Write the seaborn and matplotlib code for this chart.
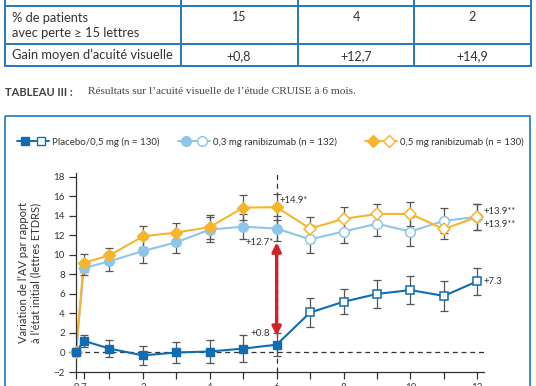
import matplotlib
matplotlib.use('Agg')
import matplotlib.pyplot as plt
import seaborn as sns
import pandas as pd
from matplotlib.lines import Line2D
from matplotlib.patches import Rectangle
from matplotlib.legend_handler import HandlerTuple

# --- données ---
months = [0, 0.23, 1, 2, 3, 4, 5, 6, 7, 8, 9, 10, 11, 12]
month_labels = ['0', '7', '', '2', '', '4', '', '6', '', '8', '', '10', '', '12']
placebo = [0, 1.2, 0.4, -0.3, 0.0, 0.1, 0.4, 0.8, 4.1, 5.2, 6.0, 6.4, 5.8, 7.3]
placebo_err = [0, 0.6, 0.85, 0.95, 1.05, 1.2, 1.4, 1.2, 1.5, 1.3, 1.4, 1.4, 1.5, 1.4]
rbz03 = [0, 8.65, 9.35, 10.4, 11.3, 12.6, 12.9, 12.7, 11.6, 12.4, 13.2, 12.4, 13.5, 13.9]
rbz03_err = [0, 0.7, 0.95, 1.2, 1.1, 1.3, 1.3, 1.3, 1.45, 1.2, 1.3, 1.45, 1.3, 1.3]
rbz05 = [0, 9.2, 9.95, 11.9, 12.3, 12.85, 14.85, 14.9, 12.7, 13.7, 14.2, 14.2, 12.65, 13.9]
rbz05_err = [0, 0.9, 0.75, 1.1, 1.0, 1.2, 1.25, 1.3, 1.2, 1.25, 1.0, 1.2, 1.05, 1.3]

groups = ['0,3 mg ranibizumab (n = 132)', '0,5 mg ranibizumab (n = 130)', 'Placebo/0,5 mg (n = 130)']
colors = ['#8dc6e8', '#f7b52c', '#0e6db3']
markers = ['o', 'D', 's']
msizes = [7, 6.5, 6.2]

table_rows = ['% de patients\navec perte ≥ 15 lettres', 'Gain moyen d\u2019acuité visuelle']
table_pct = ['15', '4', '2']
table_gain = ['+0,8', '+12,7', '+14,9']

df = pd.concat([
    pd.DataFrame({'month': months, 'value': v, 'err': e, 'group': g})
    for v, e, g in zip([rbz03, rbz05, placebo], [rbz03_err, rbz05_err, placebo_err], groups)
])

sns.set_theme(style='ticks')
plt.rcParams['font.family'] = ['Lato', 'DejaVu Sans']

fig = plt.figure(figsize=(5.36, 3.86), dpi=100)

# page (tableau, légende du tableau, cadre)
page = fig.add_axes([0, 0, 1, 1])
page.set_xlim(0, 536)
page.set_ylim(386, 0)
page.axis('off')
blue = '#2878be'
for y in [5.5, 43.5, 66]:
    page.plot([5, 531], [y, y], color=blue, lw=1.4)
for x in [5, 181, 297.5, 414, 531]:
    page.plot([x, x], [-2, 66], color=blue, lw=1.4)
page.text(12, 25.5, table_rows[0], fontsize=9.3, va='center', ha='left', color='#333', linespacing=1.3)
page.text(12, 55, table_rows[1], fontsize=9.3, va='center', ha='left', color='#333')
for xc, p, g in zip([239, 356, 472], table_pct, table_gain):
    page.text(xc, 17, p, fontsize=9, va='center', ha='center', color='#333')
    page.text(xc, 56, g, fontsize=9, va='center', ha='center', color='#333')
page.text(5, 92, 'TABLEAU III :', fontsize=8, fontweight='bold', va='center', ha='left', color='#444')
page.text(88, 92, 'Résultats sur l\u2019acuité visuelle de l\u2019étude CRUISE à 6 mois.',
          fontsize=8.1, va='center', ha='left', color='#444', family='Liberation Serif')
page.add_patch(Rectangle((5, 116), 525, 300, fill=False, edgecolor='#1b78c0', lw=1.2))

# graphique
ax = fig.add_axes([76 / 536, 14 / 386, 408 / 536, 199 / 386])
ax.patch.set_alpha(0)
sns.lineplot(data=df, x='month', y='value', hue='group', hue_order=groups, palette=colors,
             sort=False, legend=False, lw=1.5, ax=ax, zorder=2)
for g, c, m, ms in zip(groups, colors, markers, msizes):
    d = df[df['group'] == g]
    ax.errorbar(d['month'], d['value'], yerr=d['err'], fmt='none', ecolor='#555',
                elinewidth=0.9, capsize=2.8, capthick=0.9, zorder=3)
    f = d[d['month'] <= 6]
    o = d[d['month'] > 6]
    ax.plot(f['month'], f['value'], ls='none', marker=m, ms=ms, mfc=c, mec=c, zorder=4, clip_on=False)
    ax.plot(o['month'], o['value'], ls='none', marker=m, ms=ms, mfc='white', mec=c, mew=1.1, zorder=4)

ax.axhline(0, color='#333', ls=(0, (4, 3)), lw=0.9, zorder=1)
ax.axvline(6, color='#333', ls=(0, (4, 3)), lw=0.9, zorder=1)
ax.annotate('', xy=(6, 11.3), xytext=(6, 1.7),
            arrowprops=dict(arrowstyle='<|-|>', color='#d2232a', lw=2.4, mutation_scale=13,
                            shrinkA=0, shrinkB=0), zorder=5)

ax.text(6.1, 15.6, '+14.9*', fontsize=6.8, ha='left', va='center', color='#333')
ax.text(5.9, 11.3, '+12.7*', fontsize=6.8, ha='right', va='center', color='#333')
ax.text(5.8, 1.9, '+0.8', fontsize=7.2, ha='right', va='center', color='#333')
ax.text(12.2, 14.5, '+13.9**', fontsize=6.8, ha='left', va='center', color='#333')
ax.text(12.2, 13.1, '+13.9**', fontsize=6.8, ha='left', va='center', color='#333')
ax.text(12.2, 7.3, '+7.3', fontsize=6.8, ha='left', va='center', color='#333')

ax.set_xlim(0, 12.2)
ax.set_ylim(-2, 18.4)
ax.set_yticks(range(-2, 19, 2))
ax.set_xticks(months)
ax.set_xticklabels(month_labels)
ax.tick_params(axis='both', labelsize=7, length=5, width=0.9, color='#333', labelcolor='#333', pad=3)
ax.set_xlabel('')
ax.set_ylabel('Variation de l\u2019AV par rapport\nà l\u2019état initial (lettres ETDRS)', fontsize=8,
              color='#333', linespacing=1.15)
ax.yaxis.set_label_coords(-0.085, 0.5)
sns.despine(ax=ax)
for s in ['left', 'bottom']:
    ax.spines[s].set_color('#333')
    ax.spines[s].set_linewidth(0.9)

# légende
for g, c, m, ms, x0 in zip(['Placebo/0,5 mg (n = 130)', '0,3 mg ranibizumab (n = 132)', '0,5 mg ranibizumab (n = 130)'],
                           [colors[2], colors[0], colors[1]], [markers[2], markers[0], markers[1]],
                           [msizes[2], msizes[0], msizes[1]], [17, 178, 365]):
    h = (Line2D([], [], color=c, lw=1.4, marker=m, ms=ms, mfc=c, mec=c),
         Line2D([], [], color=c, lw=1.4, marker=m, ms=ms, mfc='white', mec=c))
    fig.legend([h], [g], handler_map={tuple: HandlerTuple(ndivide=None, pad=0)},
               loc='center left', bbox_to_anchor=(x0 / 536, 1 - 142 / 386), frameon=False,
               fontsize=7, handlelength=3.3, handletextpad=0.35, borderpad=0, borderaxespad=0,
               labelcolor='#333')

fig.savefig('out.png', dpi=100)
